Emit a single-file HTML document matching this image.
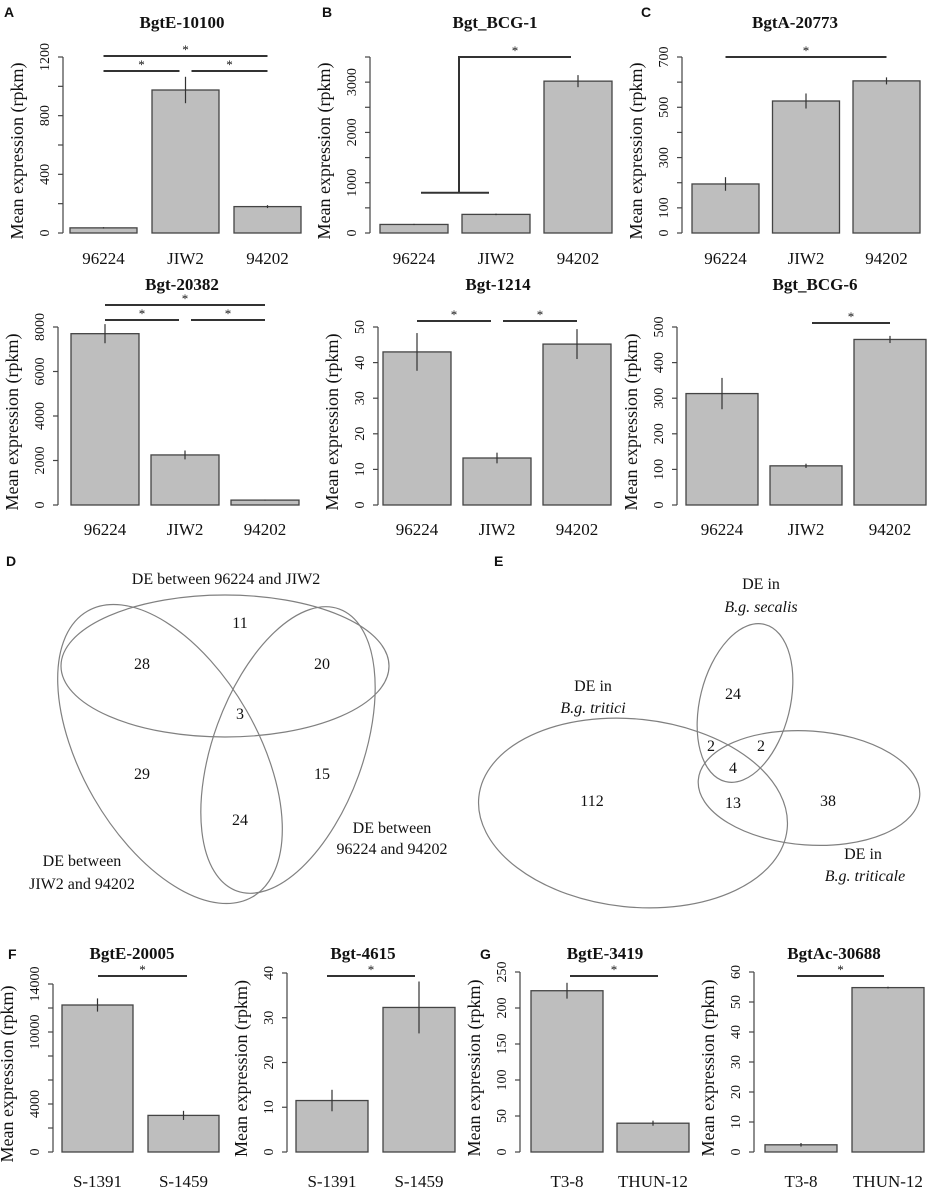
<!DOCTYPE html>
<html><head><meta charset="utf-8"><style>
body{margin:0;background:#fff}
svg{display:block}
text{font-family:"Liberation Serif",serif;fill:#111}
.ttl{font-weight:bold;font-size:17px}
.lt{font-family:"Liberation Sans",sans-serif;font-weight:bold;font-size:14px}
.v{font-size:16px}
</style></head><body>
<svg id="fig" width="929" height="1190" viewBox="0 0 929 1190" xmlns="http://www.w3.org/2000/svg">
<g id="charts"></g>
<g>
<text class="lt" x="4" y="17">A</text>
<text class="lt" x="322" y="17">B</text>
<text class="lt" x="641" y="17">C</text>
<text class="lt" x="6" y="566">D</text>
<text class="lt" x="494" y="566">E</text>
<text class="lt" x="8" y="959">F</text>
<text class="lt" x="480" y="959">G</text>
</g>
<g fill="none" stroke="#808080" stroke-width="1.2">
<ellipse cx="225" cy="666" rx="164" ry="71"/>
<ellipse cx="170" cy="754" rx="165" ry="88" transform="rotate(60 170 754)"/>
<ellipse cx="288" cy="750" rx="150" ry="75" transform="rotate(-70 288 750)"/>
</g>
<g text-anchor="middle">
<text class="v" x="226" y="584">DE between 96224 and JIW2</text>
<text class="v" x="240" y="628">11</text>
<text class="v" x="142" y="669">28</text>
<text class="v" x="322" y="669">20</text>
<text class="v" x="240" y="719">3</text>
<text class="v" x="142" y="779">29</text>
<text class="v" x="322" y="779">15</text>
<text class="v" x="240" y="825">24</text>
<text class="v" x="392" y="833">DE between</text>
<text class="v" x="392" y="854">96224 and 94202</text>
<text class="v" x="82" y="866">DE between</text>
<text class="v" x="82" y="889">JIW2 and 94202</text>
</g>
<g fill="none" stroke="#808080" stroke-width="1.2">
<ellipse cx="633" cy="813" rx="155" ry="94" transform="rotate(6 633 813)"/>
<ellipse cx="745" cy="703" rx="45" ry="81" transform="rotate(14 745 703)"/>
<ellipse cx="809" cy="788" rx="111" ry="57" transform="rotate(4 809 788)"/>
</g>
<g text-anchor="middle">
<text class="v" x="761" y="589">DE in</text>
<text class="v" x="761" y="612" font-style="italic">B.g. secalis</text>
<text class="v" x="593" y="691">DE in</text>
<text class="v" x="593" y="713" font-style="italic">B.g. tritici</text>
<text class="v" x="733" y="699">24</text>
<text class="v" x="711" y="751">2</text>
<text class="v" x="761" y="751">2</text>
<text class="v" x="733" y="773">4</text>
<text class="v" x="592" y="806">112</text>
<text class="v" x="733" y="808">13</text>
<text class="v" x="828" y="806">38</text>
<text class="v" x="863" y="859">DE in</text>
<text class="v" x="865" y="881" font-style="italic">B.g. triticale</text>
</g>
</svg>
<script>
// ---- data ----
const aTitle="BgtE-10100", aCats=["96224","JIW2","94202"], aVals=[35,975,180], aErr=[5,90,10], aTicks=[0,200,400,600,800,1000,1200], aTickLabels=["0","","400","","800","","1200"];
const bTitle="Bgt_BCG-1", bCats=["96224","JIW2","94202"], bVals=[170,370,3020], bErr=[12,15,120], bTicks=[0,500,1000,1500,2000,2500,3000,3500], bTickLabels=["0","","1000","","2000","","3000",""];
const cTitle="BgtA-20773", cCats=["96224","JIW2","94202"], cVals=[195,525,605], cErr=[27,30,14], cTicks=[0,100,200,300,400,500,600,700], cTickLabels=["0","100","","300","","500","","700"];
const a2Title="Bgt-20382", a2Cats=["96224","JIW2","94202"], a2Vals=[7700,2250,220], a2Err=[430,200,20], a2Ticks=[0,2000,4000,6000,8000], a2TickLabels=["0","2000","4000","6000","8000"];
const b2Title="Bgt-1214", b2Cats=["96224","JIW2","94202"], b2Vals=[43,13.2,45.2], b2Err=[5.3,1.5,4.2], b2Ticks=[0,10,20,30,40,50], b2TickLabels=["0","10","20","30","40","50"];
const c2Title="Bgt_BCG-6", c2Cats=["96224","JIW2","94202"], c2Vals=[313,110,465], c2Err=[44,6,10], c2Ticks=[0,100,200,300,400,500], c2TickLabels=["0","100","200","300","400","500"];
const f1Title="BgtE-20005", f1Cats=["S-1391","S-1459"], f1Vals=[12250,3050], f1Err=[550,380], f1Ticks=[0,2000,4000,6000,8000,10000,12000,14000], f1TickLabels=["0","","4000","","","10000","","14000"];
const f2Title="Bgt-4615", f2Cats=["S-1391","S-1459"], f2Vals=[11.5,32.3], f2Err=[2.4,5.8], f2Ticks=[0,10,20,30,40], f2TickLabels=["0","10","20","30","40"];
const g1Title="BgtE-3419", g1Cats=["T3-8","THUN-12"], g1Vals=[224,40], g1Err=[11,3.5], g1Ticks=[0,50,100,150,200,250], g1TickLabels=["0","50","100","150","200","250"];
const g2Title="BgtAc-30688", g2Cats=["T3-8","THUN-12"], g2Vals=[2.4,54.8], g2Err=[0.6,0.3], g2Ticks=[0,10,20,30,40,50,60], g2TickLabels=["0","10","20","30","40","50","60"];
// significance brackets: [fromIndex, toIndex, level]
const aSig=[[0,2,0],[0,1,1],[1,2,1]];
const cSig=[[0,2,0]];
const a2Sig=[[0,2,0],[0,1,1],[1,2,1]];
const b2Sig=[[0,1,1],[1,2,1]];
const c2Sig=[[1,2,1]];
const fgSig=[[0,1,0]];

// ---- layout (pixels) ----
const NS="http://www.w3.org/2000/svg";
const root=document.getElementById('charts');
function mk(tag,attrs,parent){const e=document.createElementNS(NS,tag);for(const k in attrs)e.setAttribute(k,attrs[k]);(parent||root).appendChild(e);return e;}
function chart(id,L,title,cats,vals,err,ticks,tlabels,sig){
  const g=mk('g',{});
  
  
  const top=ticks[ticks.length-1];
  const y=v=>L.zero-(v/top)*(L.zero-L.top);
  const xl=i=>L.x0+i*L.step;
  const xc=i=>xl(i)+L.w/2;
  const ax=mk('line',{x1:L.ax,x2:L.ax,y1:y(0),y2:y(top),stroke:'#444','stroke-width':1.2},g);
  
  
  ticks.forEach((t,i)=>{
    const tk=mk('line',{x1:L.ax-5,x2:L.ax,y1:y(t),y2:y(t),stroke:'#444','stroke-width':1.2},g);
    
    
    if(tlabels[i]){
      const tx=mk('text',{x:L.ax-14,y:y(t),'font-size':14,'text-anchor':'middle',transform:`rotate(-90 ${L.ax-14} ${y(t)})`,fill:'#555'},g);
      tx.textContent=tlabels[i];
      
      
    }
  });
  const yt=mk('text',{x:L.ax-46,y:(y(0)+y(top))/2,'font-size':18,'text-anchor':'middle',transform:`rotate(-90 ${L.ax-46+6} ${(y(0)+y(top))/2})`},g);
  yt.textContent='Mean expression (rpkm)';
  
  
  const tt=mk('text',{x:L.tx,y:L.ty,'text-anchor':'middle',class:'ttl'},g);
  tt.textContent=title;
  
  
  vals.forEach((v,i)=>{
    const r=mk('rect',{x:xl(i),y:y(v),width:L.w,height:y(0)-y(v),fill:'#bebebe',stroke:'#444','stroke-width':1.3},g);
    
    
    const e=mk('line',{x1:xc(i),x2:xc(i),y1:y(v-err[i]),y2:y(v+err[i]),stroke:'#333','stroke-width':1.2},g);
    
    
    const lb=mk('text',{x:xc(i),y:L.ly,'font-size':17,'text-anchor':'middle'},g);
    lb.textContent=cats[i];
    
    
  });
  (sig||[]).forEach(s=>{
    const yy=L.sigY+s[2]*15;
    let x1=xc(s[0]),x2=xc(s[1]);
    if(s[2]===1){ if(s[0]>0)x1+=6; if(s[1]<cats.length-1||s[0]===0&&s[1]===1)x2-=6; }
    const ln=mk('line',{x1:x1,x2:x2,y1:yy,y2:yy,stroke:'#333','stroke-width':2},g);
    
    
    const st=mk('text',{x:(x1+x2)/2,y:yy-2,'font-size':13,'text-anchor':'middle'},g);
    st.textContent='*';
    
    
  });
  return {g,y,xc};
}
chart('chart-bgte-10100',{ax:63,x0:70,step:82,w:67,zero:233,top:57,tx:182,ty:28,ly:264,sigY:56},aTitle,aCats,aVals,aErr,aTicks,aTickLabels,aSig);
const B=chart('chart-bgt-bcg-1',{ax:370,x0:380,step:82,w:68,zero:233,top:57,tx:495,ty:28,ly:264,sigY:57},bTitle,bCats,bVals,bErr,bTicks,bTickLabels,[]);
(function(){
  const g=B.g, yl=B.y(800), yt=B.y(3500);
  const x1=B.xc(0)+7, x2=B.xc(1)-7, xm=(B.xc(0)+B.xc(1))/2+4, x3=B.xc(2)-7;
  const p=mk('path',{d:`M${x1} ${yl}H${x2}M${xm} ${yl}V${yt}H${x3}`,fill:'none',stroke:'#333','stroke-width':2},g);
  
  
  const st=mk('text',{x:(xm+x3)/2,y:yt-2,'font-size':13,'text-anchor':'middle'},g);
  st.textContent='*';
  
  
})();
chart('chart-bgta-20773',{ax:682,x0:692,step:80.5,w:67,zero:233,top:57,tx:795,ty:28,ly:264,sigY:57},cTitle,cCats,cVals,cErr,cTicks,cTickLabels,cSig);
chart('chart-bgt-20382',{ax:58,x0:71,step:80,w:68,zero:505,top:327,tx:182,ty:290,ly:535,sigY:305},a2Title,a2Cats,a2Vals,a2Err,a2Ticks,a2TickLabels,a2Sig);
chart('chart-bgt-1214',{ax:378,x0:383,step:80,w:68,zero:505,top:327,tx:498,ty:290,ly:535,sigY:306},b2Title,b2Cats,b2Vals,b2Err,b2Ticks,b2TickLabels,b2Sig);
chart('chart-bgt-bcg-6',{ax:677,x0:686,step:84,w:72,zero:505,top:327,tx:815,ty:290,ly:535,sigY:308},c2Title,c2Cats,c2Vals,c2Err,c2Ticks,c2TickLabels,c2Sig);
chart('chart-bgte-20005',{ax:53,x0:62,step:86,w:71,zero:1152,top:984,tx:132,ty:959,ly:1187,sigY:976},f1Title,f1Cats,f1Vals,f1Err,f1Ticks,f1TickLabels,[]);
chart('chart-bgt-4615',{ax:287,x0:296,step:87,w:72,zero:1152,top:973,tx:363,ty:959,ly:1187,sigY:976},f2Title,f2Cats,f2Vals,f2Err,f2Ticks,f2TickLabels,[]);
chart('chart-bgte-3419',{ax:520,x0:531,step:86,w:72,zero:1152,top:972,tx:605,ty:959,ly:1187,sigY:976},g1Title,g1Cats,g1Vals,g1Err,g1Ticks,g1TickLabels,[]);
chart('chart-bgtac-30688',{ax:754,x0:765,step:87,w:72,zero:1152,top:972,tx:834,ty:959,ly:1187,sigY:976},g2Title,g2Cats,g2Vals,g2Err,g2Ticks,g2TickLabels,[]);
[[98,187,976],[327,415,976],[570,658,976],[797,884,976]].forEach(function(s){
  const ln=mk('line',{x1:s[0],x2:s[1],y1:s[2],y2:s[2],stroke:'#333','stroke-width':2});
  
  
  const st=mk('text',{x:(s[0]+s[1])/2,y:s[2]-2,'font-size':13,'text-anchor':'middle'});
  st.textContent='*';
  
  
});
</script>
</body></html>
